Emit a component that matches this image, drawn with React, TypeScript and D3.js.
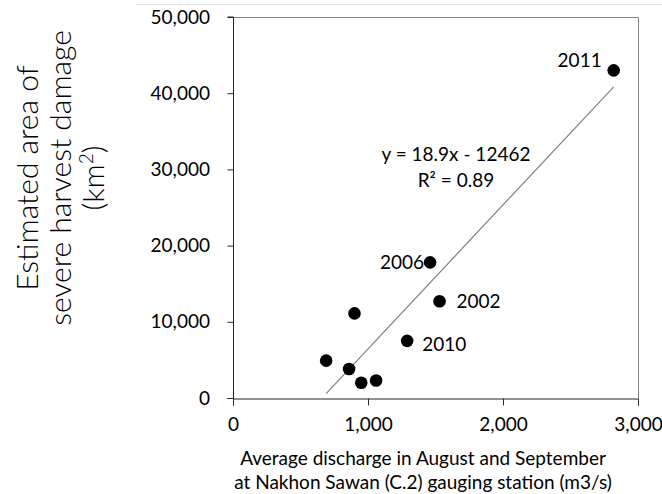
import React, { useEffect, useRef } from "react";
import * as d3 from "d3";

// discharge (m3/s) and damaged area (km2)
const discharge = [2820, 1460, 1530, 1290, 900, 690, 860, 950, 1060];
const damage = [43000, 17800, 12700, 7500, 11100, 4900, 3800, 2000, 2300];
const years = ["2011", "2006", "2002", "2010", "", "", "", "", ""];

const xTicks = [0, 1000, 2000, 3000];
const yTicks = [0, 10000, 20000, 30000, 40000, 50000];

// fitted line y = 18.9x - 12462, drawn between these x values
const slope = 18.9;
const intercept = -12462;
const fitRange = [690, 2820];

const eqLines = ["y = 18.9x - 12462", "R² = 0.89"];
const xTitle = ["Average discharge in August and September", "at Nakhon Sawan (C.2) gauging station (m3/s)"];

function App() {
  const svgRef = useRef<SVGSVGElement>(null);
  const W = 662;
  const H = 494;
  const left = 233;
  const right = 638;
  const top = 17;
  const bottom = 398;

  useEffect(() => {
    const svg = d3.select(svgRef.current);
    svg.selectAll("*").remove();
    const font = "Lato, 'Open Sans', sans-serif";
    const fs = 19;

    const x = d3.scaleLinear().domain([0, 3000]).range([left, right]);
    const y = d3.scaleLinear().domain([0, 50000]).range([bottom, top]);
    const fmt = d3.format(",");

    // light outer frame line
    svg.append("line")
      .attr("x1", 136).attr("x2", W).attr("y1", 4.5).attr("y2", 4.5)
      .attr("stroke", "#e3e3e3");

    // plot border (top/right)
    svg.append("path")
      .attr("d", `M${left},${top + 0.5}H${right + 0.5}V${bottom}`)
      .attr("fill", "none")
      .attr("stroke", "#868686");

    // y axis
    const yAxis = svg.append("g")
      .attr("transform", `translate(${left + 0.5},0)`)
      .call(d3.axisLeft(y).tickValues(yTicks).tickSize(6).tickPadding(18).tickFormat((d) => fmt(d as number)));
    // x axis
    const xAxis = svg.append("g")
      .attr("transform", `translate(0,${bottom + 0.5})`)
      .call(d3.axisBottom(x).tickValues(xTicks).tickSize(7).tickPadding(12.5).tickFormat((d) => fmt(d as number)));

    [yAxis, xAxis].forEach((g) => {
      g.select(".domain").attr("stroke", "#262626");
      g.selectAll(".tick line").attr("stroke", "#262626");
      g.selectAll(".tick text")
        .attr("font-family", font)
        .attr("font-size", fs)
        .attr("fill", "#000");
    });
    yAxis.select(".domain").attr("d", `M-6,${bottom + 0.5}H0V${top}H-6`);
    yAxis.selectAll(".tick text").attr("x", -23.5);

    // regression line
    svg.append("line")
      .attr("x1", x(fitRange[0])).attr("y1", y(slope * fitRange[0] + intercept))
      .attr("x2", x(fitRange[1])).attr("y2", y(slope * fitRange[1] + intercept))
      .attr("stroke", "#7f7f7f")
      .attr("stroke-width", 1.2);

    // points
    svg.append("g")
      .selectAll("circle")
      .data(discharge)
      .join("circle")
      .attr("cx", (d) => x(d))
      .attr("cy", (_d, i) => y(damage[i]))
      .attr("r", 6.3)
      .attr("fill", "#000");

    // year labels
    const labelPos: { [k: string]: [number, number, string] } = {
      "2011": [-12, -3, "end"],
      "2006": [-6, 6.5, "end"],
      "2002": [17, 6.5, "start"],
      "2010": [15, 10, "start"],
    };
    svg.append("g")
      .selectAll("text")
      .data(years.map((yr, i) => ({ yr, i })).filter((d) => d.yr))
      .join("text")
      .attr("x", (d) => x(discharge[d.i]) + labelPos[d.yr][0])
      .attr("y", (d) => y(damage[d.i]) + labelPos[d.yr][1])
      .attr("text-anchor", (d) => labelPos[d.yr][2])
      .attr("font-family", font)
      .attr("font-size", fs)
      .text((d) => d.yr);

    // equation
    svg.append("g")
      .selectAll("text")
      .data(eqLines)
      .join("text")
      .attr("x", 456)
      .attr("y", (_d, i) => 161 + i * 25.5)
      .attr("text-anchor", "middle")
      .attr("font-family", font)
      .attr("font-size", fs)
      .text((d) => d);

    // x title
    svg.append("g")
      .selectAll("text")
      .data(xTitle)
      .join("text")
      .attr("x", 423)
      .attr("y", (_d, i) => 465 + i * 24)
      .attr("text-anchor", "middle")
      .attr("font-family", font)
      .attr("font-size", fs)
      .text((d) => d);

    // y title (rotated)
    const yt = svg.append("text")
      .attr("transform", "translate(0,178) rotate(-90)")
      .attr("text-anchor", "middle")
      .attr("font-family", font)
      .attr("font-weight", 300)
      .attr("font-size", 30)
      .attr("fill", "#000");
    yt.append("tspan").attr("x", 0).attr("y", 38).text("Estimated area of");
    yt.append("tspan").attr("x", 0).attr("y", 71).text("severe harvest damage");
    const l3 = yt.append("tspan").attr("x", 0).attr("y", 104).text("(km");
    l3.append("tspan").attr("dy", -11).attr("font-size", 19).text("2");
    l3.append("tspan").attr("dy", 11).text(")");
  }, []);

  return (
    <svg
      ref={svgRef}
      width={W}
      height={H}
      style={{ position: "absolute", left: 0, top: 0, background: "#fff" }}
    />
  );
}

export default App;
